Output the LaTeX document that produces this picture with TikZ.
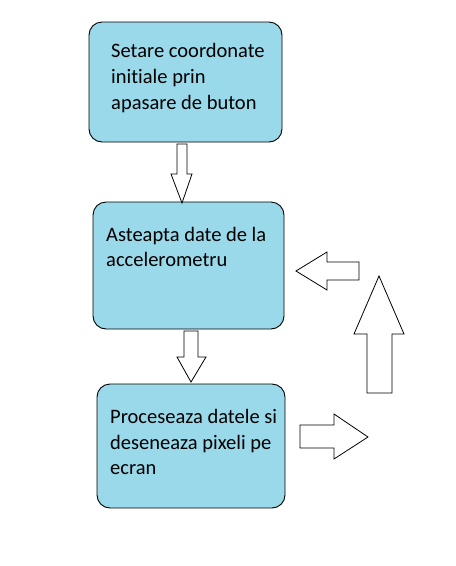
\documentclass[tikz,border=0pt]{standalone}
\usepackage{fontspec}
\setmainfont{Carlito}[Ligatures={NoCommon,NoContextual}]
\begin{document}
\begin{tikzpicture}[x=1pt,y=-1pt,
  box/.style={draw=black,line width=0.9pt,fill=boxblue,rounded corners=13pt,inner sep=0pt},
  txt/.style={anchor=base west,inner sep=0pt,font=\fontsize{20.5}{26}\selectfont},
  blockarrow/.style={draw=black,line width=0.8pt,fill=white,line join=miter}]
\definecolor{boxblue}{HTML}{99D9EA}
\useasboundingbox (0,0) rectangle (456,566);
% boxes
\draw[box] (89,22) rectangle (282,142);
\draw[box] (93,202) rectangle (284,329);
\draw[box] (97,384) rectangle (285,508);
% texts
\node[txt] (t1a) at (111,57) {Setare coordonate};
\node[txt] (t1b) at (111,83) {initiale prin};
\node[txt] (t1c) at (111,109) {apasare de buton};
\node[txt] (t2a) at (106,241) {Asteapta date de la};
\node[txt] (t2b) at (106,266) {accelerometru};
\node[txt] (t3a) at (110,423) {Proceseaza datele si};
\node[txt] (t3b) at (110,449) {deseneaza pixeli pe};
\node[txt] (t3c) at (110,474) {ecran};
% down arrow 1
\draw[blockarrow] (177,144) -- (187,144) -- (187,174) -- (192,174) -- (182,203) -- (171,174) -- (177,174) -- cycle;
% down arrow 2
\draw[blockarrow] (184,331) -- (198,331) -- (198,357) -- (206,357) -- (191,382) -- (177,357) -- (184,357) -- cycle;
% left arrow
\draw[blockarrow] (296,271) -- (327,252) -- (327,262) -- (359,262) -- (359,280) -- (327,280) -- (327,290) -- cycle;
% up arrow
\draw[blockarrow] (379,276) -- (404,334) -- (392,334) -- (392,393) -- (367,393) -- (367,334) -- (354,334) -- cycle;
% right arrow
\draw[blockarrow] (300,425) -- (334,425) -- (334,414) -- (368,437) -- (334,459) -- (334,448) -- (300,448) -- cycle;
\end{tikzpicture}
\end{document}
